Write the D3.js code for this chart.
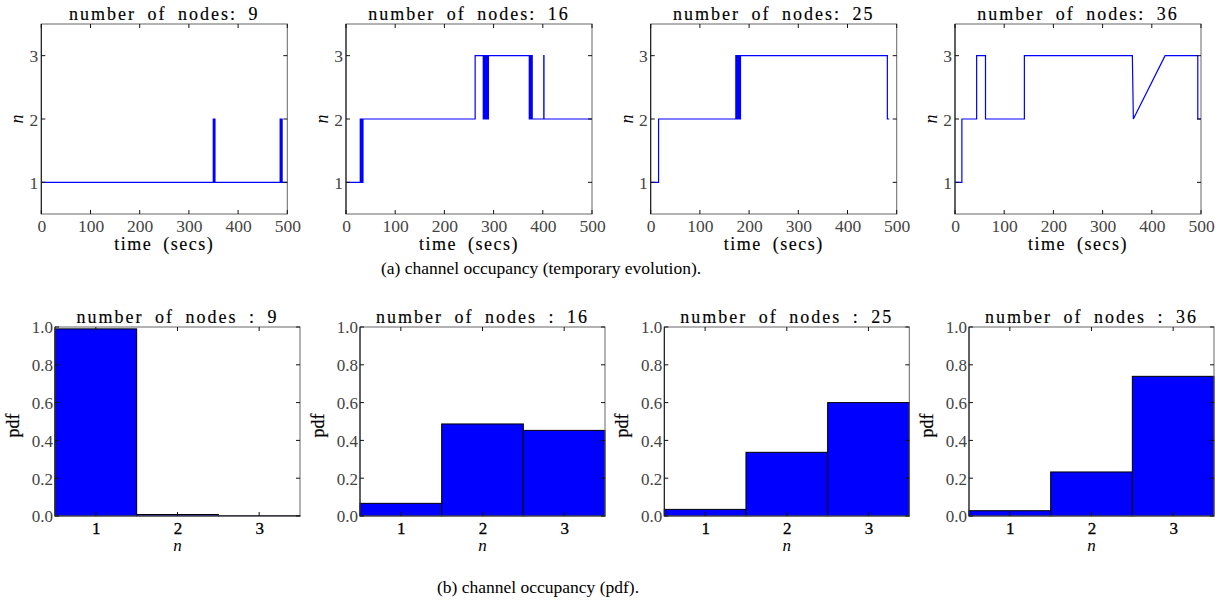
<!DOCTYPE html>
<html>
<head>
<meta charset="utf-8">
<script src="https://cdn.jsdelivr.net/npm/d3@7"></script>
<style>
  html, body { margin: 0; padding: 0; background: #fff; }
  svg { display: block; font-family: "Liberation Serif", "Times New Roman", serif; }
</style>
</head>
<body>
<svg id="fig" width="1220" height="606"></svg>
<script>
// ---- data ----
const nodeCounts = [9, 16, 25, 36];

// channel occupancy over time: sample times (secs) and occupied channels n
const t9  = [0, 349.5, 349.5, 351, 351, 351.5, 351.5, 353, 353, 485.5, 485.5, 487, 487, 487.5, 487.5, 489.5, 489.5, 500];
const n9  = [1, 1, 2, 2, 1, 1, 2, 2, 1, 1, 2, 2, 1, 1, 2, 2, 1, 1];

const t16 = [0, 29, 29, 30.5, 30.5, 31.5, 31.5, 33, 33, 34.5, 34.5, 262.5, 262.5, 279, 279, 280.5, 280.5, 282, 282, 283.5, 283.5, 285, 285, 286.5, 286.5, 288, 288, 289.5, 289.5, 372.5, 372.5, 374, 374, 375.5, 375.5, 377, 377, 378.5, 378.5, 402, 402, 402.4, 402.4, 500];
const n16 = [1, 1, 2, 2, 1, 1, 2, 2, 1, 1, 2, 2, 3, 3, 2, 2, 3, 3, 2, 2, 3, 3, 2, 2, 3, 3, 2, 2, 3, 3, 2, 2, 3, 3, 2, 2, 3, 3, 2, 2, 3, 3, 2, 2];

const t25 = [0, 16, 16, 173, 173, 174.5, 174.5, 176, 176, 177.5, 177.5, 179, 179, 180.5, 180.5, 182.5, 182.5, 481, 481, 485];
const n25 = [1, 1, 2, 2, 3, 3, 2, 2, 3, 3, 2, 2, 3, 3, 2, 2, 3, 3, 2, 2];

const t36 = [0, 14, 14, 44, 44, 62, 62, 141, 141, 360.5, 362.5, 427, 493.5, 493.5, 500];
const n36 = [1, 1, 2, 2, 3, 3, 2, 2, 3, 3, 2, 3, 3, 2, 2];

// probability density of the number of occupied channels
const channels = [1, 2, 3];
const pdf9  = [0.99, 0.008, 0.002];
const pdf16 = [0.067, 0.487, 0.453];
const pdf25 = [0.035, 0.337, 0.600];
const pdf36 = [0.028, 0.233, 0.739];

const timeTicks = [0, 100, 200, 300, 400, 500];
const nTicks = [1, 2, 3];
const pdfTicks = [0, 0.2, 0.4, 0.6, 0.8, 1.0];

const captionA = "(a) channel occupancy (temporary evolution).";
const captionB = "(b) channel occupancy (pdf).";

const series = [
  { t: t9, n: n9 }, { t: t16, n: n16 }, { t: t25, n: n25 }, { t: t36, n: n36 }
];
const pdfs = [pdf9, pdf16, pdf25, pdf36];

// ---- layout ----
const svg = d3.select("#fig");
const BLUE = "#0000ff";
const TICK = 4;
const topLefts = [41.3, 346, 650.7, 955];
const botLefts = [55, 360, 664.3, 969];
const panelW = 246;
const topY0 = 24, topY1 = 214;
const botY0 = 327, botY1 = 516;

function frame(g, w, h) {
  g.append("rect").attr("width", w).attr("height", h)
    .attr("fill", "none").attr("stroke", "#666").attr("stroke-width", 1);
  g.append("line").attr("x1", 0).attr("x2", 0).attr("y1", 0).attr("y2", h)
    .attr("stroke", "#111").attr("stroke-width", 1);
}

function inwardTicks(g, x, y, w, h, xVals, yVals) {
  const tk = g.append("g").attr("stroke", "#111").attr("stroke-width", 1);
  xVals.forEach(v => {
    const px = x(v);
    tk.append("line").attr("x1", px).attr("x2", px).attr("y1", h).attr("y2", h - TICK);
    tk.append("line").attr("x1", px).attr("x2", px).attr("y1", 0).attr("y2", TICK);
  });
  yVals.forEach(v => {
    const py = y(v);
    tk.append("line").attr("x1", 0).attr("x2", TICK).attr("y1", py).attr("y2", py);
    tk.append("line").attr("x1", w).attr("x2", w - TICK).attr("y1", py).attr("y2", py);
  });
}

function title(g, w, y, txt) {
  g.append("text").attr("x", w / 2).attr("y", y)
    .attr("text-anchor", "middle")
    .attr("font-size", 18).attr("letter-spacing", 2).attr("word-spacing", 5)
    .attr("fill", "#000").attr("stroke", "#000").attr("stroke-width", 0.15)
    .text(txt);
}

// ---- top row: temporal evolution ----
series.forEach((s, i) => {
  const w = panelW, h = topY1 - topY0;
  const g = svg.append("g").attr("transform", `translate(${topLefts[i]},${topY0})`);
  const x = d3.scaleLinear().domain([0, 500]).range([0, w]);
  const y = d3.scaleLinear().domain([0.5, 3.5]).range([h, 0]);

  const pts = s.t.map((tv, k) => [tv, s.n[k]]);
  g.append("path").datum(pts)
    .attr("fill", "none").attr("stroke", BLUE).attr("stroke-width", 1.2)
    .attr("d", d3.line().x(d => x(d[0])).y(d => y(d[1])));

  frame(g, w, h);
  inwardTicks(g, x, y, w, h, timeTicks, nTicks);

  const xa = g.append("g").attr("transform", `translate(0,${h})`)
    .call(d3.axisBottom(x).tickValues(timeTicks).tickSize(0).tickPadding(0).tickFormat(d3.format("d")));
  xa.select(".domain").remove();
  xa.selectAll("text").attr("font-size", 17.5).attr("fill", "#444").attr("dy", null).attr("y", 18);

  const ya = g.append("g")
    .call(d3.axisLeft(y).tickValues(nTicks).tickSize(0).tickPadding(3).tickFormat(d3.format("d")));
  ya.select(".domain").remove();
  ya.selectAll("text").attr("font-size", 17.5).attr("fill", "#444").attr("dy", "0.35em");

  g.selectAll(".tick line").remove();
  xa.attr("font-family", null); ya.attr("font-family", null);

  title(g, w, -4, `number of nodes: ${nodeCounts[i]}`);

  g.append("text").attr("x", w / 2).attr("y", h + 36)
    .attr("text-anchor", "middle").attr("font-size", 18)
    .attr("letter-spacing", 1.5).attr("word-spacing", 5)
    .attr("stroke", "#000").attr("stroke-width", 0.15)
    .text("time (secs)");

  g.append("text")
    .attr("transform", `translate(${-18},${h / 2}) rotate(-90)`)
    .attr("text-anchor", "middle").attr("font-size", 18).attr("font-style", "italic")
    .text("n");
});

// ---- bottom row: pdf ----
pdfs.forEach((p, i) => {
  const w = panelW - 1, h = botY1 - botY0;
  const g = svg.append("g").attr("transform", `translate(${botLefts[i]},${botY0})`);
  const x = d3.scaleLinear().domain([0.5, 3.5]).range([0, w]);
  const y = d3.scaleLinear().domain([0, 1]).range([h, 0]);

  g.selectAll("rect.bar").data(channels).join("rect")
    .attr("class", "bar")
    .attr("x", d => x(d - 0.5)).attr("width", d => x(d + 0.5) - x(d - 0.5))
    .attr("y", (d, k) => y(p[k])).attr("height", (d, k) => y(0) - y(p[k]))
    .attr("fill", BLUE).attr("stroke", "#000").attr("stroke-width", 1);

  frame(g, w, h);
  inwardTicks(g, x, y, w, h, channels, pdfTicks);

  const xa = g.append("g").attr("transform", `translate(0,${h})`)
    .call(d3.axisBottom(x).tickValues(channels).tickSize(0).tickPadding(0).tickFormat(d3.format("d")));
  xa.select(".domain").remove();
  xa.selectAll("text").attr("font-size", 17).attr("fill", "#000").attr("dy", null).attr("y", 18)
    .attr("stroke", "#000").attr("stroke-width", 0.3);

  const ya = g.append("g")
    .call(d3.axisLeft(y).tickValues(pdfTicks).tickSize(0).tickPadding(2).tickFormat(d3.format(".1f")));
  ya.select(".domain").remove();
  ya.selectAll("text").attr("font-size", 17).attr("fill", "#444").attr("dy", "0.35em");

  g.selectAll(".tick line").remove();
  xa.attr("font-family", null); ya.attr("font-family", null);

  title(g, w, -4, `number of nodes : ${nodeCounts[i]}`);

  g.append("text").attr("x", w / 2).attr("y", h + 35)
    .attr("text-anchor", "middle").attr("font-size", 17).attr("font-style", "italic")
    .text("n");

  g.append("text")
    .attr("transform", `translate(${-36},${h / 2 + 4}) rotate(-90)`)
    .attr("text-anchor", "middle").attr("font-size", 18)
    .attr("stroke", "#000").attr("stroke-width", 0.2)
    .text("pdf");
});

// ---- sub-figure captions ----
svg.append("text").attr("x", 541).attr("y", 274)
  .attr("text-anchor", "middle").attr("font-size", 17.5).text(captionA);
svg.append("text").attr("x", 538).attr("y", 593)
  .attr("text-anchor", "middle").attr("font-size", 17.5).text(captionB);
</script>
</body>
</html>
